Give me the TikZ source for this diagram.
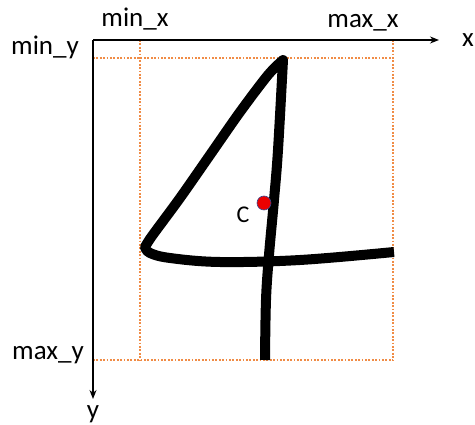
\documentclass[tikz,border=0pt]{standalone}
\usepackage{fontspec}
\setmainfont{Carlito}
\usetikzlibrary{arrows.meta}
\definecolor{guide}{RGB}{240,140,70}
\definecolor{dotred}{RGB}{235,0,0}
\definecolor{dotrim}{RGB}{60,70,140}
\begin{document}
\begin{tikzpicture}[x=1pt,y=-1pt,
  axis/.style={line width=1.4pt,-{Stealth[length=9pt,width=7pt]}},
  guideline/.style={guide,line width=2.2pt,line cap=butt,dash pattern=on 1.8pt off 1.6pt},
  stroke/.style={line width=10pt,line cap=butt,line join=round},
  lbl/.style={font=\fontsize{27}{30}\selectfont,anchor=base,inner sep=0pt}]
\useasboundingbox (0,0) rectangle (475,425);
% axes
\coordinate (O) at (93,40);
\coordinate (xend) at (439,40);
\coordinate (yend) at (93,399);
% guide corners
\coordinate (tl) at (93,58);
\coordinate (tr) at (393,58);
\coordinate (bl) at (93,360);
\coordinate (br) at (393,360);
\coordinate (vlt) at (140,40);
\coordinate (vlb) at (140,360);
\coordinate (vrt) at (393,40);
\draw[guideline] (tl) -- (tr);
\draw[guideline] (bl) -- (br);
\draw[guideline] (vlt) -- (vlb);
\draw[guideline] (vrt) -- (br);
\draw[axis] (O) -- (xend);
\draw[axis] (O) -- (yend);
% labels
\node[lbl] (minx) at (135,27) {min\_x};
\node[lbl] (maxx) at (363,28) {max\_x};
\node[lbl] (miny) at (45,55) {min\_y};
\node[lbl] (maxy) at (48,360) {max\_y};
\node[lbl] (xl) at (468,47) {x};
\node[lbl] (yl) at (93,419) {y};
% the digit 4
\draw[stroke] plot[smooth,tension=0.6] coordinates {(265,360) (266,300) (269,255) (274,200) (278,150) (283,60)}
  -- plot[smooth,tension=0.5] coordinates {(283,60) (268,75) (240,112) (210,155) (180,198) (152,236) (145,247)}
  -- plot[smooth,tension=0.6] coordinates {(145,247) (150,253) (170,258) (220,262) (300,260) (394,252)};
% centroid
\node[circle,fill=dotred,draw=dotrim,line width=0.6pt,minimum size=14pt,inner sep=0pt] (C) at (264,203) {};
\node[lbl,font=\fontsize{24}{27}\selectfont] (Cl) at (243,223) {C};
\end{tikzpicture}
\end{document}
